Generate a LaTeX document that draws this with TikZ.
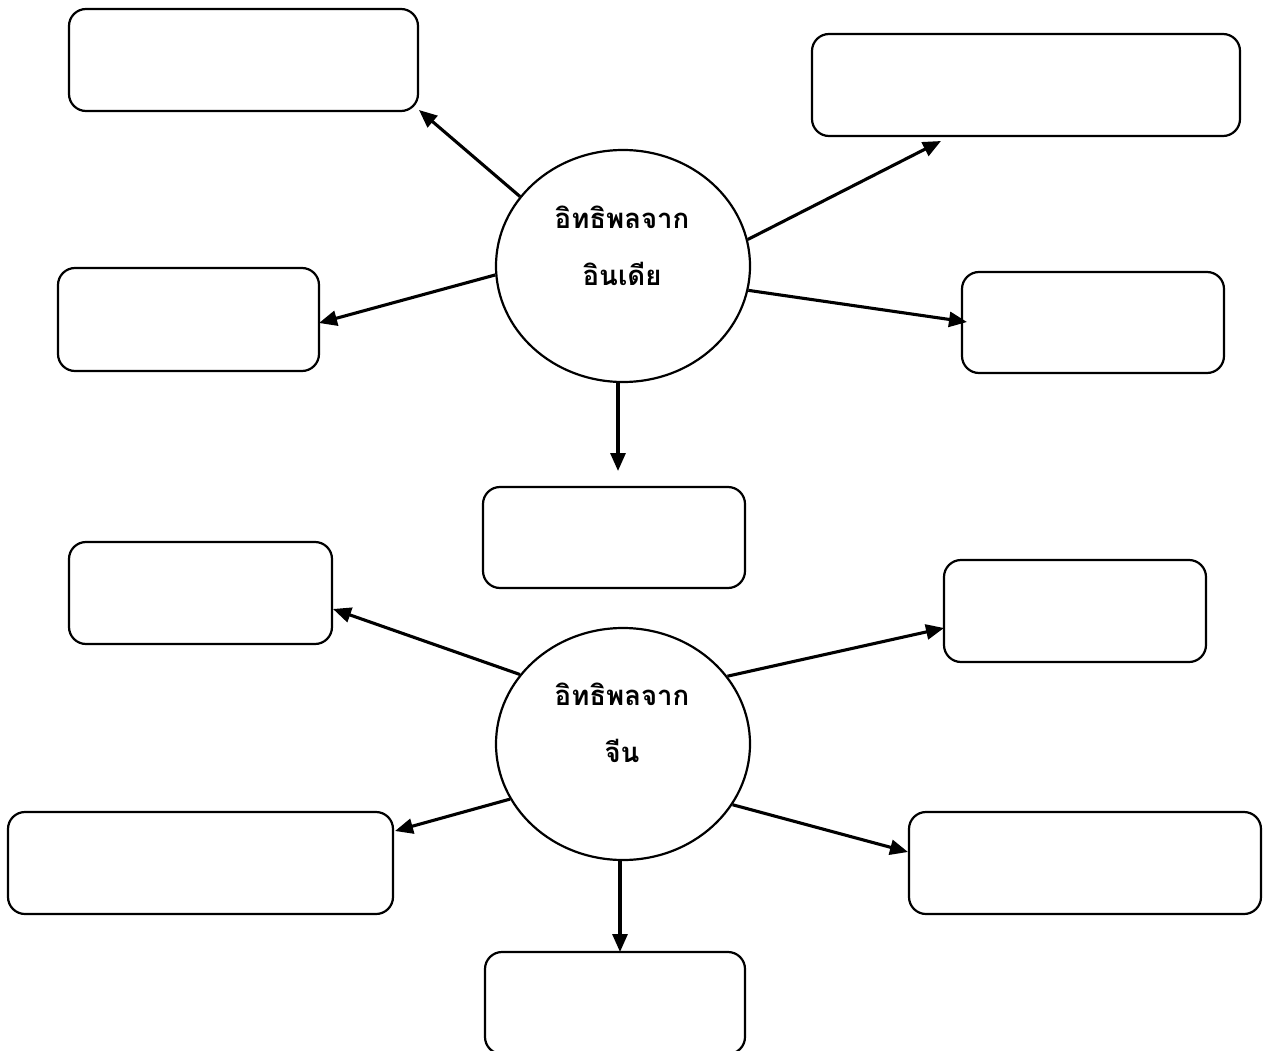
\documentclass[tikz,border=0pt]{standalone}
\usepackage{fontspec}
\newfontfamily\thaifont[Script=Thai]{Loma}
\usetikzlibrary{shapes.geometric,arrows.meta}
\tikzset{
  box/.style={draw=black, line width=2.2pt, rounded corners=17pt, inner sep=0pt},
  hub/.style={draw=black, ellipse, line width=2.2pt, minimum width=254pt, minimum height=232pt, inner sep=0pt},
  hubtext/.style={align=center, inner sep=0pt, font=\thaifont\bfseries\fontsize{27.5}{57}\selectfont},
  arr/.style={line width=3.1pt, -{Triangle[length=18pt,width=15pt]}}
}
\begin{document}
\begin{tikzpicture}[x=1pt,y=-1pt]
\useasboundingbox (0,0) rectangle (1263,1051);
% boxes
\node[box, minimum width=349pt, minimum height=102pt] (bA) at (243.5,60) {};
\node[box, minimum width=428pt, minimum height=102pt] (bB) at (1026,85) {};
\node[box, minimum width=261pt, minimum height=103pt] (bC) at (188.5,319.5) {};
\node[box, minimum width=262pt, minimum height=101pt] (bD) at (1093,322.5) {};
\node[box, minimum width=262pt, minimum height=101pt] (bE) at (614,537.5) {};
\node[box, minimum width=263pt, minimum height=102pt] (bF) at (200.5,593) {};
\node[box, minimum width=262pt, minimum height=102pt] (bG) at (1075,611) {};
\node[box, minimum width=385pt, minimum height=102pt] (bH) at (200.5,863) {};
\node[box, minimum width=352pt, minimum height=102pt] (bI) at (1085,863) {};
\node[box, minimum width=260pt, minimum height=102pt] (bJ) at (615,1003) {};
% hubs
\node[hub] (c1) at (623,266) {};
\node[hub] (c2) at (623,744) {};
\node[hubtext, anchor=base] (c1t) at (622,285) {อิทธิพลจาก\\อินเดีย};
\node[hubtext, anchor=base] (c2t) at (622,762) {อิทธิพลจาก\\จีน};
% arrow tips
\coordinate (t1) at (419,110);
\coordinate (t2) at (941,141);
\coordinate (t3) at (319,323);
\coordinate (t4) at (967,322);
\coordinate (t5) at (618,471);
\coordinate (t6) at (333,609);
\coordinate (t7) at (944,628);
\coordinate (t8) at (395,831);
\coordinate (t9) at (908,852);
\coordinate (t10) at (620,952);
% arrows
\draw[arr] (c1.146) -- (t1);
\draw[arr] (c1.12) -- (t2);
\draw[arr] (c1.184.5) -- (t3);
\draw[arr] (c1.-11.3) -- (t4);
\draw[arr] (c1.south -| t5) -- (t5);
\draw[arr] (c2.146) -- (t6);
\draw[arr] (c2.33) -- (t7);
\draw[arr] (c2.206.4) -- (t8);
\draw[arr] (c2.-29.2) -- (t9);
\draw[arr] (c2.south -| t10) -- (t10);
\end{tikzpicture}
\end{document}
